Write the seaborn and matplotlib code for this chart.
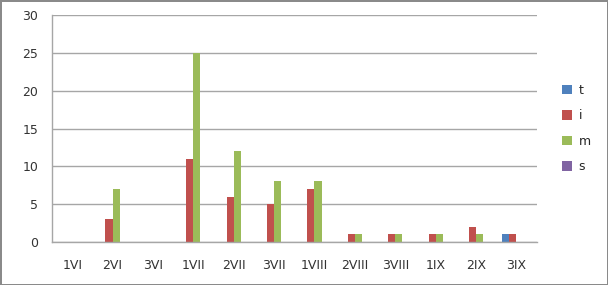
import numpy as np
import pandas as pd
import matplotlib
matplotlib.use("Agg")
import matplotlib.pyplot as plt
import seaborn as sns

# data
categories = ["1VI", "2VI", "3VI", "1VII", "2VII", "3VII",
              "1VIII", "2VIII", "3VIII", "1IX", "2IX", "3IX"]
t_vals = [0, 0, 0, 0, 0, 0, 0, 0, 0, 0, 0, 1]
i_vals = [0, 3, 0, 11, 6, 5, 7, 1, 1, 1, 2, 1]
m_vals = [0, 7, 0, 25, 12, 8, 8, 1, 1, 1, 1, 0]
s_vals = [0, 0, 0, 0, 0, 0, 0, 0, 0, 0, 0, 0]
series = ["t", "i", "m", "s"]
colors = ["#4F81BD", "#C0504D", "#9BBB59", "#8064A2"]

df = pd.DataFrame({"cat": categories, "t": t_vals, "i": i_vals,
                   "m": m_vals, "s": s_vals})
long = df.melt(id_vars="cat", var_name="series", value_name="value")

sns.set_style("white")
plt.rcParams["font.family"] = ["DejaVu Sans"]

fig = plt.figure(figsize=(6.08, 2.85), dpi=100, edgecolor="#8a8a8a", linewidth=2)
ax = fig.add_axes([0.0855, 0.151, 0.797, 0.796])

sns.barplot(data=long, x="cat", y="value", hue="series", hue_order=series,
            order=categories, palette=colors, width=0.7, saturation=1,
            linewidth=0, edgecolor="none", ax=ax, legend=True)

ax.set_ylim(0, 30)
ax.set_yticks(np.arange(0, 31, 5))
ax.set_xlim(-0.5, len(categories) - 0.5)
ax.yaxis.grid(True, color="#a6a6a6", linewidth=1)
ax.set_axisbelow(True)
ax.set_xlabel("")
ax.set_ylabel("")

for sp in ["top", "right"]:
    ax.spines[sp].set_visible(False)
for sp in ["left", "bottom"]:
    ax.spines[sp].set_color("#a6a6a6")
    ax.spines[sp].set_linewidth(1)

ax.tick_params(axis="x", which="major", length=0, labelsize=9, pad=12)
ax.set_xticks(np.arange(-0.5, len(categories), 1), minor=True)
ax.tick_params(axis="x", which="minor", length=4, color="#a6a6a6", direction="out")
ax.tick_params(axis="y", length=4, color="#a6a6a6", labelsize=9, pad=6)
ax.tick_params(axis="both", labelcolor="#333333")

handles, labels = ax.get_legend_handles_labels()
ax.legend(handles, labels, loc="center left", bbox_to_anchor=(1.03, 0.5),
          frameon=False, fontsize=9, handlelength=0.8, handleheight=0.8,
          labelspacing=1.0, handletextpad=0.5)

fig.savefig("out.png", dpi=100)
